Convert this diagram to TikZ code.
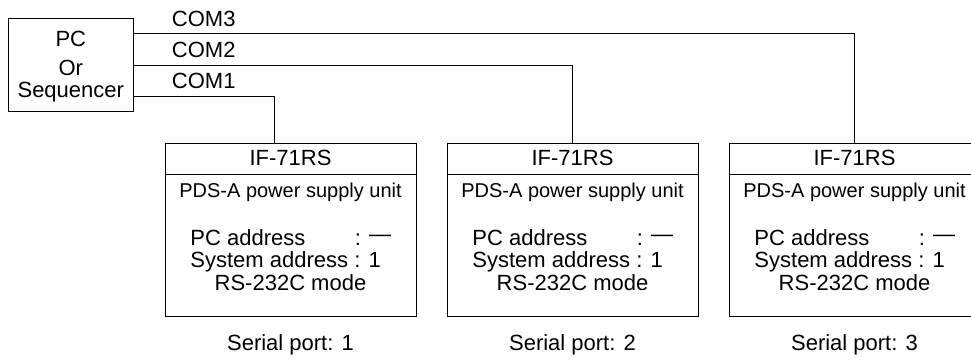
\documentclass[tikz,border=0pt]{standalone}
\usepackage{fontspec}
\setmainfont{Liberation Sans}
\begin{document}
\begin{tikzpicture}[x=1pt,y=-1pt, line width=0.9pt,
  lbl/.style={inner sep=0pt, anchor=base, font=\fontsize{22}{26}\selectfont},
  lblw/.style={lbl, anchor=base west},
  sub/.style={lbl, font=\fontsize{20}{24}\selectfont},
  unit/.style={draw, rectangle, inner sep=0pt, minimum width=251pt, minimum height=172.5pt, anchor=north west},
  pcbox/.style={draw, rectangle, inner sep=0pt, minimum width=125pt, minimum height=92.5pt, anchor=north west}]
\clip (0,0) rectangle (971,360);
% PC box
\node[pcbox] (pc) at (8.3,18.3) {};
\node[lbl] (pc1) at (70.8,46.7) {PC};
\node[lbl] (pc2) at (70.8,75.7) {Or};
\node[lbl] (pc3) at (70.8,97.8) {Sequencer};
% COM labels
\node[lblw] (com3) at (171.5,26) {COM3};
\node[lblw] (com2) at (171.5,57.3) {COM2};
\node[lblw] (com1) at (171.5,88.3) {COM1};
% units
\coordinate (d) at (0,174);
\foreach \i/\x in {1/165, 2/447, 3/729} {
  \node[unit] (b\i) at (\x,143) {};
  \draw (b\i.west |- d) -- (b\i.east |- d);
  \node[lbl] (t\i) at (\x+125.5,165.5) {IF-71RS};
  \node[sub] (s\i) at (\x+125.5,197) {PDS-A power supply unit};
  \node[lblw] (pa\i) at (\x+25,245) {PC address};
  \node[lblw] (pv\i) at (\x+189.5,245) {: \raisebox{3.5pt}{—}};
  \node[lblw] (sa\i) at (\x+25,267.5) {System address : 1};
  \node[lbl] (m\i) at (\x+125.5,290) {RS-232C mode};
  \node[lbl] (p\i) at (\x+125.5,350) {Serial port: \i};
}
% connectors
\coordinate (c3) at (854,33.3);
\coordinate (c2) at (572.3,65);
\coordinate (c1) at (274.3,96.7);
\draw (pc.east |- c3) -| (b3.north -| c3);
\draw (pc.east |- c2) -| (b2.north -| c2);
\draw (pc.east |- c1) -| (b1.north -| c1);
\end{tikzpicture}
\end{document}
